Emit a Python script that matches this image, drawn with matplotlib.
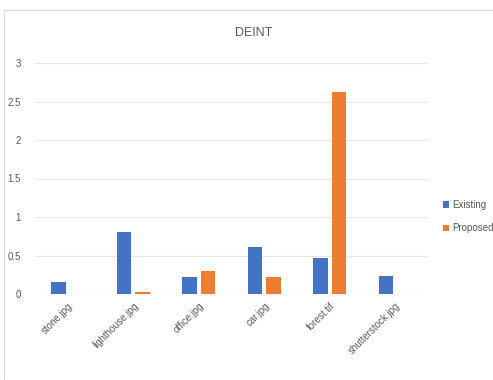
import numpy as np
import matplotlib
matplotlib.use("Agg")
from matplotlib import pyplot as plt
from matplotlib.patches import Rectangle

images = ["stone.jpg", "lighthouse.jpg", "office.jpg", "car.jpg", "forest.tif", "shutterstock.jpg"]
existing = [0.16, 0.80, 0.22, 0.61, 0.47, 0.23]
proposed = [0.0, 0.02, 0.30, 0.22, 2.62, 0.0]
yticks = [0, 0.5, 1, 1.5, 2, 2.5, 3]
ytick_labels = ["0", "0.5", "1", "1.5", "2", "2.5", "3"]

plt.rcParams["font.family"] = ["Liberation Sans", "DejaVu Sans"]
text_grey = "#595959"

fig = plt.figure(figsize=(4.93, 3.80), dpi=100)
# chart area frame
fig.patches.append(Rectangle((4 / 493, 0), 1, 1 - 10 / 380, transform=fig.transFigure,
                             facecolor="white", edgecolor="#d9d9d9", lw=0.8, zorder=-1))

ax = fig.add_axes([35 / 493, 1 - 294 / 380, 393 / 493, 231 / 380])
x = np.arange(len(images))
w = 0.22
ax.bar(x - 0.14, existing, w, color="#4472C4", label="Existing", zorder=3)
ax.bar(x + 0.14, proposed, w, color="#ED7D31", label="Proposed", zorder=3)

ax.set_xlim(-0.5, len(images) - 0.5)
ax.set_ylim(0, 3)
ax.set_yticks(yticks, ytick_labels)
ax.set_xticks(x, images, rotation=45, ha="right", rotation_mode="anchor")
ax.tick_params(axis="both", length=0, labelsize=7, colors=text_grey)
ax.tick_params(axis="y", pad=10)
ax.tick_params(axis="x", pad=5)
ax.grid(axis="y", color="#e6e6e6", lw=0.8, zorder=0)
for s in ax.spines.values():
    s.set_visible(False)
ax.axhline(0, color="#e0e0e0", lw=0.8, zorder=1)

fig.text(254 / 493, 1 - 33 / 380, "DEINT", ha="center", va="center", fontsize=9, color=text_grey)

ax.legend(loc="center left", bbox_to_anchor=(1.015, 0.335), frameon=False, fontsize=7,
          labelcolor=text_grey, handlelength=0.7, handleheight=0.7, handletextpad=0.3,
          labelspacing=1.4)

plt.savefig("out.png")
